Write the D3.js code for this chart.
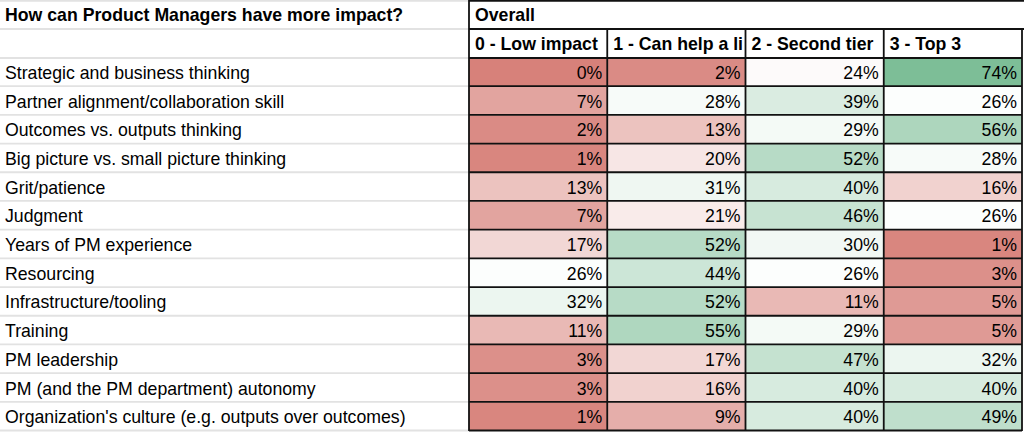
<!DOCTYPE html>
<html>
<head>
<meta charset="utf-8">
<script src="https://cdn.jsdelivr.net/npm/d3@7"></script>
<style>
  body { margin: 0; background: #fff; overflow: hidden; }
  text { font-family: "Liberation Sans", Arial, sans-serif; fill: #000; }
</style>
</head>
<body>
<script>
// the data
const title = "How can Product Managers have more impact?";
const groupLabel = "Overall";
const columns = ["0 - Low impact", "1 - Can help a little", "2 - Second tier", "3 - Top 3"];
const factors = [
    "Strategic and business thinking",
    "Partner alignment/collaboration skill",
    "Outcomes vs. outputs thinking",
    "Big picture vs. small picture thinking",
    "Grit/patience",
    "Judgment",
    "Years of PM experience",
    "Resourcing",
    "Infrastructure/tooling",
    "Training",
    "PM leadership",
    "PM (and the PM department) autonomy",
    "Organization's culture (e.g. outputs over outcomes)"
];
const lowImpact  = [0, 7, 2, 1, 13, 7, 17, 26, 32, 11, 3, 3, 1];
const canHelp    = [2, 28, 13, 20, 31, 21, 52, 44, 52, 55, 17, 16, 9];
const secondTier = [24, 39, 29, 52, 40, 46, 30, 26, 11, 29, 47, 40, 40];
const top3       = [74, 26, 56, 28, 16, 26, 1, 3, 5, 5, 32, 40, 49];

const seriesValues = [lowImpact, canHelp, secondTier, top3];

const width = window.innerWidth;
const height = window.innerHeight;
const fontSize = 17.7;

const svg = d3.select("body")
    .append("svg")
    .attr("width", width)
    .attr("height", height);

// layout scales
const tableLeft = 469;
const x = d3.scaleBand()
    .domain(columns)
    .range([tableLeft, 1022]);
const y = d3.scaleBand()
    .domain(factors)
    .range([58, 431]);
const headerRows = [{top: 0, bottom: 29}, {top: 29, bottom: 58}];

// colour scale: min -> red, mean -> white, max -> green (spreadsheet style)
const allValues = seriesValues.flat();
const color = d3.scaleLinear()
    .domain([d3.min(allValues), d3.mean(allValues), d3.max(allValues)])
    .range(["#d7817a", "#ffffff", "#7dbe97"])
    .interpolate(d3.interpolateRgb);

const cells = [];
columns.forEach((c, ci) => {
    factors.forEach((f, fi) => {
        cells.push({column: c, factor: f, value: seriesValues[ci][fi]});
    });
});

//////////// LEFT LABEL COLUMN ////////////

const gridGrey = "#e2e2e2";
const gridYs = [0.8, 29, 58].concat(factors.map(f => y(f) + y.bandwidth() - 0.5));
svg.append("g")
    .selectAll("line")
    .data(gridYs)
    .join("line")
    .attr("x1", 0)
    .attr("x2", tableLeft)
    .attr("y1", d => d)
    .attr("y2", d => d)
    .attr("stroke", gridGrey)
    .attr("stroke-width", 1.8);

svg.append("text")
    .attr("x", 5)
    .attr("y", 14.5 + fontSize * 0.37)
    .style("font-size", fontSize + "px")
    .style("font-weight", "bold")
    .text(title);

svg.append("g")
    .selectAll("text")
    .data(factors)
    .join("text")
    .attr("x", 5)
    .attr("y", d => y(d) + y.bandwidth() / 2 + fontSize * 0.37)
    .style("font-size", fontSize + "px")
    .text(d => d);

//////////// DATA CELLS ////////////

svg.append("g")
    .selectAll("rect")
    .data(cells)
    .join("rect")
    .attr("x", d => x(d.column))
    .attr("y", d => y(d.factor))
    .attr("width", x.bandwidth())
    .attr("height", y.bandwidth())
    .attr("fill", d => color(d.value));

svg.append("g")
    .selectAll("text")
    .data(cells)
    .join("text")
    .attr("x", d => x(d.column) + x.bandwidth() - 5)
    .attr("y", d => y(d.factor) + y.bandwidth() / 2 + fontSize * 0.37)
    .attr("text-anchor", "end")
    .style("font-size", fontSize + "px")
    .text(d => d.value + "%");

// header texts (cut to their cell like a spreadsheet)
svg.append("text")
    .attr("x", tableLeft + 6)
    .attr("y", (headerRows[0].top + headerRows[0].bottom) / 2 + fontSize * 0.37)
    .style("font-size", fontSize + "px")
    .style("font-weight", "bold")
    .text(groupLabel);

svg.append("g")
    .selectAll("text")
    .data(columns)
    .join("text")
    .attr("x", d => x(d) + 6)
    .attr("y", (headerRows[1].top + headerRows[1].bottom) / 2 + fontSize * 0.37)
    .style("font-size", fontSize + "px")
    .style("font-weight", "bold")
    .text(d => d)
    .each(function () {
        // drop the characters that overflow the cell
        const el = d3.select(this);
        const maxW = x.bandwidth() - 8;
        let s = el.text();
        while (s.length > 1 && this.getComputedTextLength() > maxW) {
            s = s.slice(0, -1);
            el.text(s);
        }
    });

//////////// BLACK BORDERS ////////////

const borders = svg.append("g")
    .attr("stroke", "#111")
    .attr("stroke-width", 1.8);

// horizontal lines across the table
const hLines = [0.8, 29, 58].concat(factors.map(f => y(f) + y.bandwidth() - 0.5));
borders.selectAll("line.h")
    .data(hLines)
    .join("line")
    .attr("class", "h")
    .attr("x1", tableLeft)
    .attr("x2", (d, i) => i < 2 ? width : x.range()[1])
    .attr("y1", d => d)
    .attr("y2", d => d);

// left border of the whole table
borders.append("line")
    .attr("x1", tableLeft)
    .attr("x2", tableLeft)
    .attr("y1", 0)
    .attr("y2", 431);

// column separators, below the "Overall" row
borders.selectAll("line.v")
    .data(columns.slice(1).map(c => x(c)).concat([x.range()[1]]))
    .join("line")
    .attr("class", "v")
    .attr("x1", d => d)
    .attr("x2", d => d)
    .attr("y1", 29)
    .attr("y2", 431);
</script>
</body>
</html>
